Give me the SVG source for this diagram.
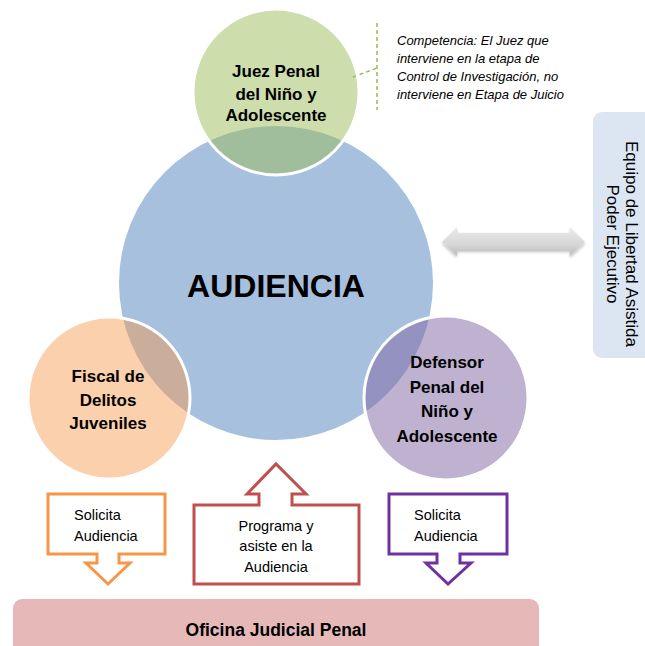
<svg xmlns="http://www.w3.org/2000/svg" width="645" height="646" viewBox="0 0 645 646">
<style>
  .lbl{font-family:"Liberation Sans",Arial,sans-serif;font-weight:bold;fill:#000;text-anchor:middle}
  .rot{font-family:"Liberation Sans",Arial,sans-serif;font-size:17px;fill:#000;text-anchor:middle}
  .sm{font-family:"Liberation Sans",Arial,sans-serif;font-size:14.5px;fill:#000}
  .it{font-family:"Liberation Sans",Arial,sans-serif;font-style:italic;font-size:13px;fill:#000}
  .sat{stroke:#fff;stroke-width:3}
  .call{fill:#fff;stroke-width:3;stroke-linejoin:miter}
</style>
<defs>
  <linearGradient id="ga" x1="0" y1="0" x2="0" y2="1">
    <stop offset="0" stop-color="#ebebeb"/>
    <stop offset="0.6" stop-color="#d6d6d6"/>
    <stop offset="1" stop-color="#bdbdbd"/>
  </linearGradient>
  <filter id="sh" x="-10%" y="-30%" width="120%" height="160%">
    <feGaussianBlur in="SourceAlpha" stdDeviation="1.5"/>
    <feOffset dx="0" dy="2" result="b"/>
    <feComponentTransfer><feFuncA type="linear" slope="0.25"/></feComponentTransfer>
    <feMerge><feMergeNode/><feMergeNode in="SourceGraphic"/></feMerge>
  </filter>
</defs>

<g id="connectors">
  <path d="M353,77 L377,68" fill="none" stroke="#9bbb59" stroke-width="1.5" stroke-dasharray="4,3"/>
  <path d="M377,23 L377,110" fill="none" stroke="#9bbb59" stroke-width="1.5" stroke-dasharray="4,3"/>
  <path d="M442,242 L457,227 L457,233 L570,233 L570,227 L585,242 L570,256 L570,250 L457,250 L457,256 Z" fill="url(#ga)" filter="url(#sh)"/>
</g>

<g id="audiencia">
  <circle cx="276" cy="283" r="157" fill="#4f81bd" fill-opacity="0.5"/>
  <text class="lbl" x="276" y="297" font-size="32">AUDIENCIA</text>
</g>

<g id="juez">
  <circle class="sat" cx="276" cy="92" r="83" fill="#9bbb59" fill-opacity="0.5"/>
  <text class="lbl" font-size="17"><tspan x="276" y="77">Juez Penal</tspan><tspan x="276" y="100">del Niño y</tspan><tspan x="276" y="121">Adolescente</tspan></text>
</g>

<g id="fiscal">
  <circle class="sat" cx="109" cy="398" r="81" fill="#f79646" fill-opacity="0.45"/>
  <text class="lbl" font-size="17"><tspan x="108" y="382">Fiscal de</tspan><tspan x="108" y="406">Delitos</tspan><tspan x="108" y="429">Juveniles</tspan></text>
</g>

<g id="defensor">
  <circle class="sat" cx="446" cy="398" r="82" fill="#8064a2" fill-opacity="0.5"/>
  <text class="lbl" font-size="17"><tspan x="447" y="368">Defensor</tspan><tspan x="447" y="393">Penal del</tspan><tspan x="447" y="417">Niño y</tspan><tspan x="447" y="442">Adolescente</tspan></text>
</g>

<g id="nota">
  <text class="it"><tspan x="397" y="45">Competencia: El Juez que</tspan><tspan x="397" y="63">interviene en la etapa de</tspan><tspan x="397" y="81">Control de Investigación, no</tspan><tspan x="397" y="99">interviene en Etapa de Juicio</tspan></text>
</g>

<g id="equipo">
  <rect x="593" y="112" width="70" height="246" rx="9" fill="#dce6f2"/>
  <text class="rot" transform="translate(626,244) rotate(90)">Equipo de Libertad Asistida</text>
  <text class="rot" transform="translate(607,244) rotate(90)">Poder Ejecutivo</text>
</g>

<g id="solicita-fiscal">
  <path class="call" stroke="#f79646" d="M48,494 L165,494 L165,554 L119,554 L119,563 L130,563 L108,584 L86,563 L97,563 L97,554 L48,554 Z"/>
  <text class="sm"><tspan x="74" y="520">Solicita</tspan><tspan x="74" y="541">Audiencia</tspan></text>
</g>

<g id="programa">
  <path class="call" stroke="#c0504d" d="M194,505 L259,505 L259,494 L247,494 L276,464 L306,494 L292,494 L292,505 L359,505 L359,584 L194,584 Z"/>
  <text class="sm" text-anchor="middle"><tspan x="276" y="531">Programa y</tspan><tspan x="276" y="551">asiste en la</tspan><tspan x="276" y="572">Audiencia</tspan></text>
</g>

<g id="solicita-defensor">
  <path class="call" stroke="#7030a0" d="M389,494 L507,494 L507,554 L460,554 L460,563 L471,563 L448,584 L426,563 L437,563 L437,554 L389,554 Z"/>
  <text class="sm"><tspan x="414" y="520">Solicita</tspan><tspan x="414" y="541">Audiencia</tspan></text>
</g>

<g id="oficina">
  <rect x="13" y="599" width="526" height="60" rx="9" fill="#e6b9b8"/>
  <text class="lbl" x="276" y="636" font-size="17.5">Oficina Judicial Penal</text>
</g>
</svg>
